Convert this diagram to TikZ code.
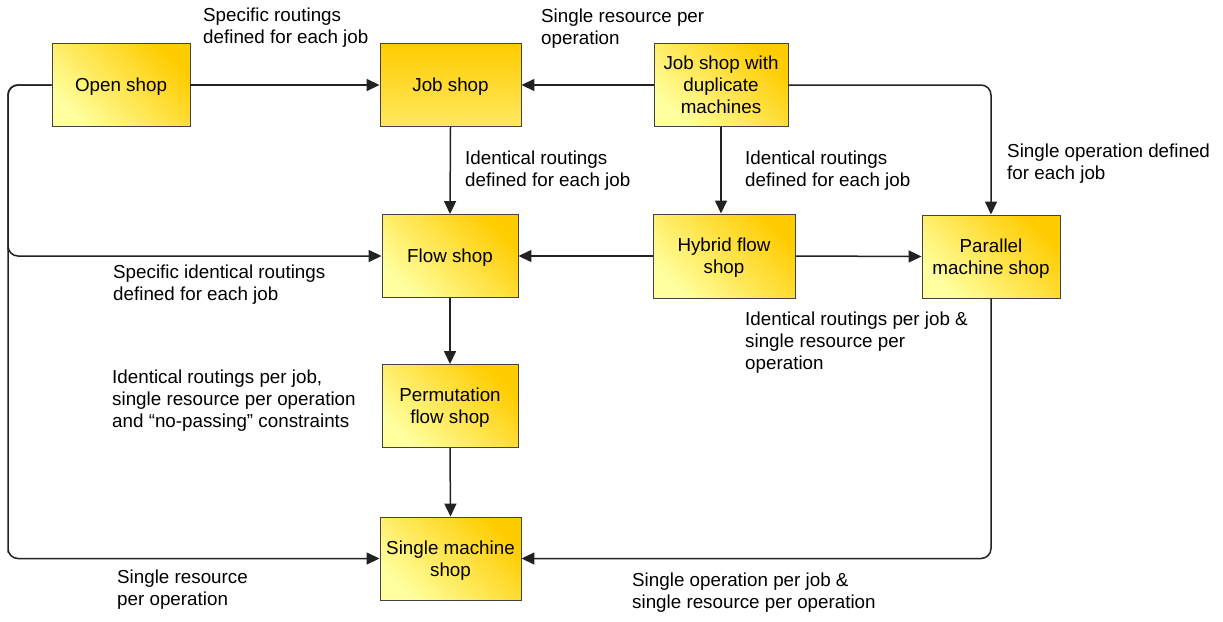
\documentclass[tikz,border=0pt]{standalone}
\usepackage{fontspec}
\setmainfont{Liberation Sans}
\usetikzlibrary{arrows.meta}
\definecolor{inkline}{HTML}{222222}
\definecolor{paleyellow}{HTML}{FFFFA0}
\definecolor{midyellow}{HTML}{FFF070}
\definecolor{gold}{HTML}{FFCC00}
\definecolor{warmyellow}{HTML}{FFE860}
\tikzset{
  shopbox/.style={rectangle, draw=inkline!85, line width=0.9pt,
    minimum width=138pt, minimum height=83pt, inner sep=2pt, align=center,
    text depth=0pt,
    shading=axis, bottom color=paleyellow, middle color=midyellow, top color=gold,
    shading angle=-45,
    font=\fontsize{18.8}{22}\selectfont},
  goldbox/.style={shopbox, bottom color=warmyellow, middle color=gold, top color=gold},
  conn/.style={draw=inkline, line width=1.5pt, rounded corners=10pt,
    -{Triangle[length=13pt,width=12pt]}},
  note/.style={anchor=north west, inner sep=0pt, align=left,
    font=\fontsize{18.8}{22}\selectfont}
}
\begin{document}
\begin{tikzpicture}[x=1pt,y=-1pt]
\useasboundingbox (0,0) rectangle (1223,621);

% shop types
\node[shopbox] (open) at (121,85) {Open shop};
\node[goldbox, minimum width=141pt] (job) at (450.5,85) {Job shop};
\node[shopbox, minimum width=134pt] (dup) at (721,85) {Job shop with\\duplicate\\machines};
\node[shopbox, minimum width=136pt] (flow) at (450,256) {Flow shop};
\node[shopbox, minimum width=142pt, minimum height=84pt] (hybrid) at (724,256) {Hybrid flow\\shop};
\node[shopbox] (par) at (991,256.5) {Parallel\\machine shop};
\node[shopbox, minimum width=136pt] (perm) at (450,406) {Permutation\\flow shop};
\node[shopbox, minimum width=141pt] (single) at (450.5,558.5) {Single machine\\shop};

% turning points of the outer connectors
\coordinate (leftmid) at (8,256);
\coordinate (leftlow) at (8,558.5);

% connectors
\draw[conn] (open.east) -- (job.west);
\draw[conn] (open.west) -| (leftmid) |- (flow.west);
\draw[conn] (open.west) -| (leftlow) |- (single.west);
\draw[conn] (dup.west) -- (job.east);
\draw[conn] (dup.east) -| (par.north);
\draw[conn] (dup.south) -- (dup.south |- hybrid.north);
\draw[conn] (job.south) -- (flow.north);
\draw[conn] (hybrid.west) -- (flow.east);
\draw[conn] (hybrid.east) -- (par.west);
\draw[conn] (flow.south) -- (perm.north);
\draw[conn] (perm.south) -- (single.north);
\draw[conn] (par.south) |- (single.east);

% relation labels
\node[note] (l1) at (203,8) {Specific routings\\defined for each job};
\node[note] (l2) at (541,9) {Single resource per\\operation};
\node[note] (l3) at (465,151) {Identical routings\\defined for each job};
\node[note] (l4) at (745,151) {Identical routings\\defined for each job};
\node[note] (l5) at (1007,144) {Single operation defined\\for each job};
\node[note] (l6) at (113,265) {Specific identical routings\\defined for each job};
\node[note] (l7) at (745,312) {Identical routings per job \&\\single resource per\\operation};
\node[note] (l8) at (112,370) {Identical routings per job,\\single resource per operation\\and “no-passing” constraints};
\node[note] (l9) at (117,570) {Single resource\\per operation};
\node[note] (l10) at (632,573) {Single operation per job \&\\single resource per operation};
\end{tikzpicture}
\end{document}
